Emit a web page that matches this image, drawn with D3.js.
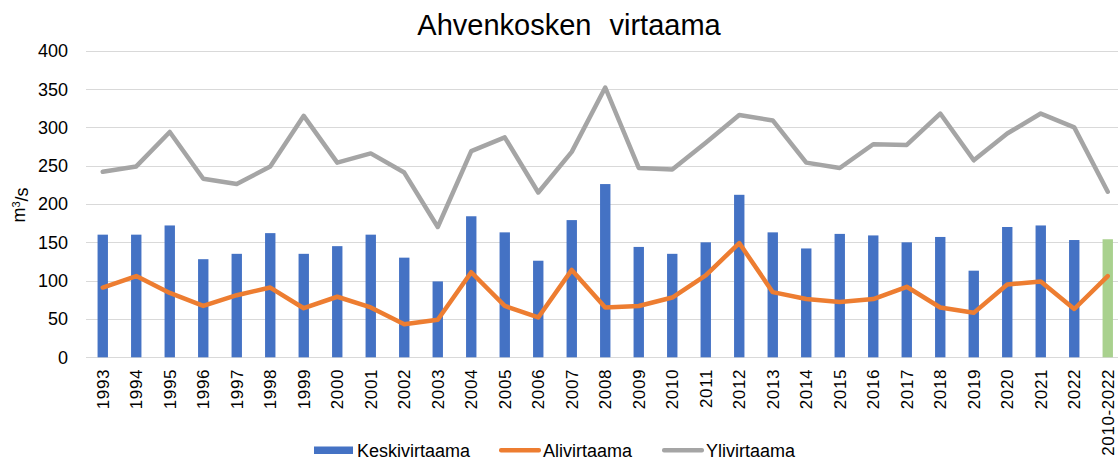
<!DOCTYPE html>
<html>
<head>
<meta charset="utf-8">
<script src="https://cdn.jsdelivr.net/npm/d3@7"></script>
<style>
  body { margin: 0; background: #fff; }
  svg { display: block; font-family: "Liberation Sans", Arial, sans-serif; }
</style>
</head>
<body>
<svg id="chart"></svg>
<script>
var years = ["1993", "1994", "1995", "1996", "1997", "1998", "1999", "2000", "2001", "2002",
    "2003", "2004", "2005", "2006", "2007", "2008", "2009", "2010", "2011", "2012",
    "2013", "2014", "2015", "2016", "2017", "2018", "2019", "2020", "2021", "2022", "2010-2022"];

// Keskivirtaama (bars)
var keski = [160, 160, 172, 128, 135, 162, 135, 145, 160, 130,
    99, 184, 163, 126, 179, 226, 144, 135, 150, 212,
    163, 142, 161, 159, 150, 157, 113, 170, 172, 153, 154];

// Alivirtaama (orange line)
var ali = [91, 106, 84, 67, 81, 91, 64, 79, 65, 43,
    49, 111, 67, 52, 114, 65, 67, 78, 107, 149,
    85, 76, 72, 76, 92, 65, 58, 95, 99, 63, 106];

// Ylivirtaama (grey line)
var yli = [242, 249, 294, 233, 226, 249, 315, 254, 266, 241,
    170, 269, 287, 215, 268, 352, 247, 245, 280, 316,
    309, 254, 247, 278, 277, 318, 257, 292, 318, 300, 216];

var yTicks = [0, 50, 100, 150, 200, 250, 300, 350, 400];

var legendItems = [
    { name: "Keskivirtaama", color: "#4472c4", type: "bar", x: 314 },
    { name: "Alivirtaama", color: "#ed7d31", type: "line", x: 499 },
    { name: "Ylivirtaama", color: "#a5a5a5", type: "line", x: 662 }
];

var width = 1118,
    height = 463;

var svg = d3.select("#chart").attr("width", width).attr("height", height);

var x = d3.scaleBand()
    .domain(years)
    .range([86, 86 + 31 * 33.5])
    .paddingInner(0.69)
    .paddingOuter(0.345);

var y = d3.scaleLinear()
    .domain([0, 400])
    .range([357.3, 50.7]);

// gridlines
svg.append("g")
    .selectAll("line")
    .data(yTicks)
    .enter()
    .append("line")
    .attr("x1", 86)
    .attr("x2", width)
    .attr("y1", function(d) { return Math.round(y(d)) + 0.5; })
    .attr("y2", function(d) { return Math.round(y(d)) + 0.5; })
    .attr("stroke", "#d9d9d9")
    .attr("stroke-width", 1.2);

// y tick labels
svg.append("g")
    .selectAll("text")
    .data(yTicks)
    .enter()
    .append("text")
    .attr("x", 68)
    .attr("y", function(d) { return y(d); })
    .attr("dy", "0.36em")
    .attr("text-anchor", "end")
    .style("font-size", "18px")
    .style("fill", "#000")
    .text(function(d) { return d; });

// bars
svg.append("g")
    .selectAll("rect")
    .data(keski)
    .enter()
    .append("rect")
    .attr("x", function(d, i) { return x(years[i]); })
    .attr("width", x.bandwidth())
    .attr("y", function(d) { return y(d); })
    .attr("height", function(d) { return y(0) - y(d); })
    .attr("fill", function(d, i) { return years[i] == "2010-2022" ? "#a9d18e" : "#4472c4"; });

var line = d3.line()
    .x(function(d, i) { return x(years[i]) + x.bandwidth() / 2; })
    .y(function(d) { return y(d); });

svg.append("path")
    .datum(yli)
    .attr("d", line)
    .attr("fill", "none")
    .attr("stroke", "#a5a5a5")
    .attr("stroke-width", 4.5)
    .attr("stroke-linejoin", "round")
    .attr("stroke-linecap", "round");

svg.append("path")
    .datum(ali)
    .attr("d", line)
    .attr("fill", "none")
    .attr("stroke", "#ed7d31")
    .attr("stroke-width", 4.5)
    .attr("stroke-linejoin", "round")
    .attr("stroke-linecap", "round");

// x labels, rotated
svg.append("g")
    .selectAll("text")
    .data(years)
    .enter()
    .append("text")
    .attr("transform", function(d) {
        return "translate(" + (x(d) + x.bandwidth() / 2) + ",369) rotate(-90)";
    })
    .attr("dy", "0.36em")
    .attr("text-anchor", "end")
    .style("font-size", "17px")
    .style("letter-spacing", "0.6px")
    .style("fill", "#000")
    .text(function(d) { return d; });

// y axis title
svg.append("text")
    .attr("transform", "translate(25,205) rotate(-90)")
    .attr("text-anchor", "middle")
    .style("font-size", "18px")
    .style("fill", "#000")
    .text("m")
    .append("tspan")
    .attr("dy", "-0.45em")
    .style("font-size", "11px")
    .text("3")
    .select(function() { return this.parentNode; })
    .append("tspan")
    .attr("dy", "0.45em")
    .text("/s");

// title
svg.append("text")
    .attr("x", 569)
    .attr("y", 35)
    .attr("text-anchor", "middle")
    .style("font-size", "29px")
    .style("word-spacing", "10px")
    .style("fill", "#000")
    .text("Ahvenkosken virtaama");

// legend
var legend = svg.append("g")
    .selectAll("g")
    .data(legendItems)
    .enter()
    .append("g");

legend.append("rect")
    .attr("x", function(d) { return d.x; })
    .attr("y", function(d) { return d.type == "bar" ? 446.5 : 448; })
    .attr("width", function(d) { return d.type == "bar" ? 39 : 42; })
    .attr("height", function(d) { return d.type == "bar" ? 7.5 : 4.5; })
    .attr("rx", function(d) { return d.type == "bar" ? 0 : 2; })
    .attr("fill", function(d) { return d.color; });

legend.append("text")
    .attr("x", function(d) { return d.x + (d.type == "bar" ? 43 : 44); })
    .attr("y", 456.5)
    .style("font-size", "18px")
    .style("fill", "#000")
    .text(function(d) { return d.name; });
</script>
</body>
</html>
